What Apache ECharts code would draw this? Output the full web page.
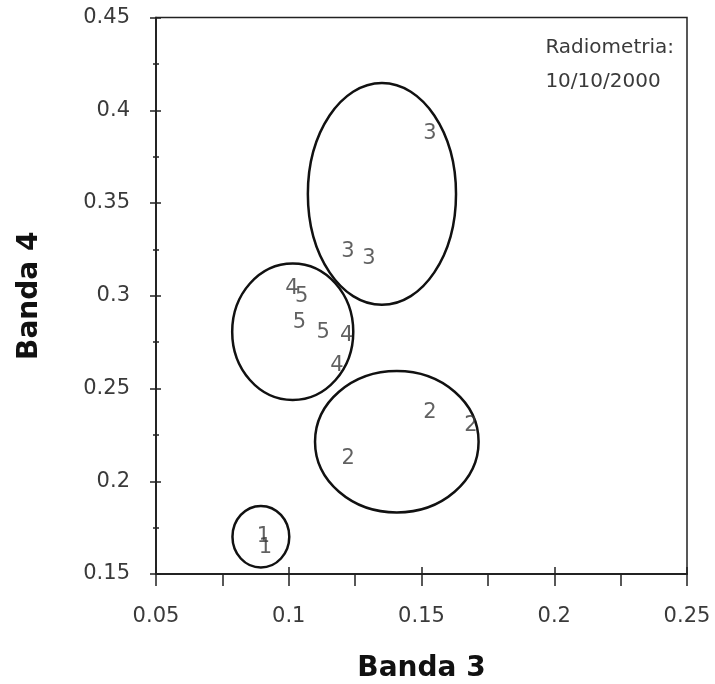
<!DOCTYPE html>
<html>
<head>
<meta charset="utf-8">
<script src="https://cdn.jsdelivr.net/npm/echarts@6/dist/echarts.min.js"></script>
<style>
  html, body { margin: 0; padding: 0; background: #fff; }
  #container { width: 715px; height: 684px; }
</style>
</head>
<body>
<div id="container"></div>
<script>
var dom = document.getElementById("container");
var myChart = echarts.init(dom);

// classes (labels drawn at each point) and band values
var pointClass = ['3', '3', '3', '4', '5', '5', '5', '4', '4', '2', '2', '2', '1', '1'];
var banda3 = [0.1532, 0.1223, 0.1302, 0.1012, 0.1049, 0.1040, 0.1130, 0.1218, 0.1181, 0.1532, 0.1686, 0.1224, 0.0905, 0.0912];
var banda4 = [0.3884, 0.3247, 0.3214, 0.3050, 0.3005, 0.2865, 0.2810, 0.2798, 0.2636, 0.2380, 0.2312, 0.2132, 0.1710, 0.1651];

// class ellipses: centre and half-axes in data units
var ellCx = [0.1351, 0.1015, 0.1407, 0.0895];
var ellCy = [0.3549, 0.2806, 0.2213, 0.1701];
var ellRx = [0.0279, 0.0228, 0.0308, 0.0107];
var ellRy = [0.0598, 0.0368, 0.0381, 0.0166];

var xTicks = { min: 0.05, max: 0.25, interval: 0.05 };
var yTicks = { min: 0.15, max: 0.45, interval: 0.05 };

var axisColor = '#222';
var textColor = '#3a3a3a';
var font = 'DejaVu Sans';

function fmt(v) {
  return String(+v.toFixed(3));
}

var points = pointClass.map(function (c, i) {
  return [banda3[i], banda4[i], c];
});
var ellipses = ellCx.map(function (c, i) {
  return [c, ellCy[i], ellRx[i], ellRy[i]];
});

var lineStyle = { color: axisColor, width: 1.5 };

option = {
  animation: false,
  grid: {
    left: 156, right: 28, top: 17.5, bottom: 110,
    outerBoundsMode: 'none',
    containLabel: false,
    show: true, borderColor: axisColor, borderWidth: 1.5
  },
  xAxis: [{
    type: 'value',
    min: xTicks.min, max: xTicks.max, interval: xTicks.interval,
    name: 'Banda 3',
    nameLocation: 'middle',
    nameGap: 81,
    nameTextStyle: { fontFamily: font, fontWeight: 'bold', fontSize: 28, color: '#111' },
    axisLine: { show: true, onZero: false, lineStyle: lineStyle },
    axisTick: { show: true, inside: false, length: 12, lineStyle: lineStyle },
    minorTick: { show: true, splitNumber: 2, length: 12, lineStyle: lineStyle },
    axisLabel: { margin: 32, fontFamily: font, fontSize: 21, color: textColor, formatter: fmt },
    splitLine: { show: false }
  }, {
    type: 'value',
    position: 'bottom',
    offset: 0,
    min: xTicks.min, max: xTicks.max, interval: xTicks.interval,
    axisLine: { show: true, onZero: false, lineStyle: lineStyle },
    axisTick: { show: true, inside: true, length: 7, lineStyle: lineStyle },
    axisLabel: { show: false },
    splitLine: { show: false }
  }],
  yAxis: [{
    type: 'value',
    min: yTicks.min, max: yTicks.max, interval: yTicks.interval,
    name: 'Banda 4',
    nameLocation: 'middle',
    nameGap: 112,
    nameTextStyle: { fontFamily: font, fontWeight: 'bold', fontSize: 28, color: '#111' },
    axisLine: { show: true, onZero: false, lineStyle: lineStyle },
    axisTick: { show: true, inside: false, length: 6, lineStyle: lineStyle },
    minorTick: { show: true, splitNumber: 2, length: 3, lineStyle: lineStyle },
    axisLabel: { margin: 26, padding: [8, 0, 0, 0], fontFamily: font, fontSize: 21, color: textColor, formatter: fmt },
    splitLine: { show: false }
  }, {
    type: 'value',
    position: 'left',
    offset: 0,
    min: yTicks.min, max: yTicks.max, interval: yTicks.interval,
    axisLine: { show: true, onZero: false, lineStyle: lineStyle },
    axisTick: { show: true, inside: true, length: 5, lineStyle: lineStyle },
    minorTick: { show: true, splitNumber: 2, length: 3, lineStyle: lineStyle },
    axisLabel: { show: false },
    splitLine: { show: false }
  }],
  graphic: [{
    type: 'text',
    right: 41,
    top: 31,
    style: {
      text: 'Radiometria:\n10/10/2000',
      align: 'right',
      fontFamily: font,
      fontSize: 20,
      lineHeight: 34,
      fill: textColor
    }
  }],
  series: [{
    type: 'custom',
    data: ellipses,
    renderItem: function (params, api) {
      var c = api.coord([api.value(0), api.value(1)]);
      var s = api.size([api.value(2), api.value(3)]);
      return {
        type: 'ellipse',
        shape: { cx: c[0], cy: c[1], rx: s[0], ry: s[1] },
        style: { fill: 'none', stroke: '#111', lineWidth: 2.5 }
      };
    },
    silent: true,
    z: 2
  }, {
    type: 'scatter',
    xAxisIndex: 1,
    yAxisIndex: 1,
    data: points,
    symbol: 'circle',
    symbolSize: 1,
    itemStyle: { color: 'rgba(0,0,0,0)' },
    label: {
      show: true,
      position: 'inside',
      offset: [0, 2],
      fontFamily: font,
      fontSize: 21,
      color: textColor,
      formatter: function (p) { return p.value[2]; }
    },
    z: 3
  }]
};

if (option && typeof option === "object") {
  myChart.setOption(option, true);
}
</script>
</body>
</html>
